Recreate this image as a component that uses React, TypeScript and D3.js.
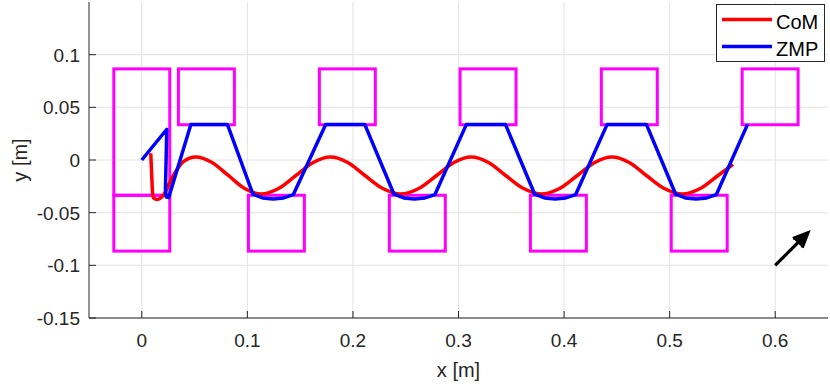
import * as d3 from 'd3';

const W = 830;
const H = 384;
const margin = { top: 2, right: 2, bottom: 66, left: 89 };

const xTicks = [0, 0.1, 0.2, 0.3, 0.4, 0.5, 0.6];
const yTicks = [-0.15, -0.1, -0.05, 0, 0.05, 0.1];

// footprint centres (x) for the two rows, square feet
const leftFootX = [0.0612, 0.1947, 0.328, 0.4618, 0.5952];
const rightFootX = [0, 0.1275, 0.261, 0.3946, 0.528];
const footRowY = 0.06;
const footHalf = 0.0265;
// initial stance rectangle (left foot at start)
const startRect = { x0: -0.0265, x1: 0.0265, y0: -0.0335, y1: 0.0865 };

// CoM trajectory [x, y]
const com: [number, number][] = [
  [0.0085, 0.0064], [0.0093, -0.012], [0.0101, -0.029], [0.0113, -0.0362], [0.0145, -0.0374],
  [0.0206, -0.0333], [0.0268, -0.0206], [0.0331, -0.0095], [0.0394, -0.0016], [0.051, 0.0028],
  [0.0665, -0.0023], [0.082, -0.0147], [0.0975, -0.0271], [0.113, -0.0323], [0.1295, -0.0271],
  [0.146, -0.0147], [0.1624, -0.0023], [0.1787, 0.0028], [0.1951, -0.0023], [0.2114, -0.0147],
  [0.2284, -0.0271], [0.2453, -0.0323], [0.2623, -0.0271], [0.2793, -0.0147], [0.2957, -0.0023],
  [0.312, 0.0028], [0.3284, -0.0023], [0.3447, -0.0147], [0.3617, -0.0271], [0.3787, -0.0323],
  [0.3957, -0.0271], [0.4126, -0.0147], [0.429, -0.0023], [0.4453, 0.0028], [0.4617, -0.0023],
  [0.478, -0.0147], [0.495, -0.0271], [0.512, -0.0323], [0.529, -0.0271], [0.5459, -0.0147],
  [0.56, -0.0041],
];

// ZMP trajectory [x, y]
const zmp: [number, number][] = [
  [0, 0], [0.0237, 0.0292], [0.0224, -0.028], [0.0232, -0.0352], [0.0255, -0.0355],
  [0.0465, 0.0338], [0.0811, 0.0338],
  [0.1053, -0.0325], [0.1145, -0.036], [0.1245, -0.037], [0.1345, -0.036], [0.1436, -0.0328],
  [0.1742, 0.0338], [0.2112, 0.0338],
  [0.2389, -0.0325], [0.2481, -0.036], [0.2583, -0.037], [0.2683, -0.036], [0.2777, -0.0328],
  [0.3075, 0.0338], [0.3445, 0.0338],
  [0.3722, -0.0325], [0.3814, -0.036], [0.3916, -0.037], [0.4016, -0.036], [0.411, -0.0328],
  [0.4408, 0.0338], [0.478, 0.0338],
  [0.5057, -0.0325], [0.5149, -0.036], [0.525, -0.037], [0.535, -0.036], [0.5443, -0.0328],
  [0.5738, 0.0338],
];

// heading arrow
const arrow = { x: 0.6, y: -0.1, u: 0.031, v: 0.031 };

const FONT = '"Liberation Sans", Arial, Helvetica, sans-serif';
const AX = '#262626';

export default function App() {
  const x = d3.scaleLinear().domain([-0.05, 0.65]).range([margin.left, W - margin.right]);
  const y = d3.scaleLinear().domain([-0.15, 0.15]).range([H - margin.bottom, margin.top]);
  const x0 = x(-0.05), x1 = x(0.65), yb = y(-0.15), yt = y(0.15);

  const line = d3.line<[number, number]>().x(d => x(d[0])).y(d => y(d[1]));
  const comPath = d3.line<[number, number]>().x(d => x(d[0])).y(d => y(d[1])).curve(d3.curveMonotoneX)(com);

  const feet = [
    ...leftFootX.map(c => ({ x0: c - footHalf, x1: c + footHalf, y0: footRowY - footHalf, y1: footRowY + footHalf })),
    ...rightFootX.map(c => ({ x0: c - footHalf, x1: c + footHalf, y0: -footRowY - footHalf, y1: -footRowY + footHalf })),
    startRect,
  ];

  // arrow geometry
  const ax0 = x(arrow.x), ay0 = y(arrow.y);
  const ax1 = x(arrow.x + arrow.u), ay1 = y(arrow.y + arrow.v);
  const ang = Math.atan2(ay1 - ay0, ax1 - ax0);
  const hl = 16, ha = 0.42;
  const b1 = [ax1 - hl * Math.cos(ang - ha), ay1 - hl * Math.sin(ang - ha)];
  const b2 = [ax1 - hl * Math.cos(ang + ha), ay1 - hl * Math.sin(ang + ha)];

  return (
    <svg width={W} height={H} style={{ position: 'absolute', left: 0, top: 0, background: '#fff' }} fontFamily={FONT}>
      {/* grid */}
      <g stroke="#e2e2e2" strokeWidth={1}>
        {xTicks.map(t => <line key={'gx' + t} x1={x(t)} x2={x(t)} y1={yt} y2={yb} />)}
        {yTicks.map(t => <line key={'gy' + t} x1={x0} x2={x1} y1={y(t)} y2={y(t)} />)}
      </g>

      {/* axes */}
      <g stroke={AX} strokeWidth={1}>
        <line x1={x0} x2={x0} y1={yt} y2={yb} />
        <line x1={x0} x2={x1} y1={yb} y2={yb} />
        {xTicks.map(t => <line key={'tx' + t} x1={x(t)} x2={x(t)} y1={yb} y2={yb - 7} />)}
        {yTicks.map(t => <line key={'ty' + t} x1={x0} x2={x0 + 7} y1={y(t)} y2={y(t)} />)}
      </g>
      <g fill={AX} fontSize={19}>
        {xTicks.map(t => (
          <text key={'lx' + t} x={x(t)} y={yb + 29} textAnchor="middle">{String(t)}</text>
        ))}
        {yTicks.map(t => (
          <text key={'ly' + t} x={x0 - 9} y={y(t) + 7} textAnchor="end">{String(t)}</text>
        ))}
        <text x={(x0 + x1) / 2} y={377} textAnchor="middle" fontSize={20}>x [m]</text>
        <text transform={`translate(27,${(yt + yb) / 2}) rotate(-90)`} textAnchor="middle" fontSize={20}>y [m]</text>
      </g>

      {/* footprints */}
      <g fill="none" stroke="#ff00ff" strokeWidth={3}>
        {feet.map((f, i) => (
          <rect key={i} x={x(f.x0)} y={y(f.y1)} width={x(f.x1) - x(f.x0)} height={y(f.y0) - y(f.y1)} />
        ))}
      </g>

      {/* trajectories */}
      <path d={comPath || ''} fill="none" stroke="#ff0000" strokeWidth={3.5} strokeLinejoin="round" />
      <path d={line(zmp) || ''} fill="none" stroke="#0000ff" strokeWidth={3.5} strokeLinejoin="round" />

      {/* arrow */}
      <g stroke="#000" strokeWidth={3.2} strokeLinecap="butt">
        <line x1={ax0} y1={ay0} x2={ax1} y2={ay1} />
        <polyline points={`${b1[0]},${b1[1]} ${ax1},${ay1} ${b2[0]},${b2[1]}`} fill="#000" strokeLinejoin="miter" />
      </g>

      {/* legend */}
      <g>
        <rect x={716.5} y={4.5} width={108} height={57} fill="#fff" stroke={AX} strokeWidth={1} />
        <line x1={722} x2={772} y1={19.5} y2={19.5} stroke="#ff0000" strokeWidth={3.5} />
        <line x1={722} x2={772} y1={46.5} y2={46.5} stroke="#0000ff" strokeWidth={3.5} />
        <text x={776} y={28.5} fontSize={20} fill="#000">CoM</text>
        <text x={776} y={55.5} fontSize={20} fill="#000">ZMP</text>
      </g>
    </svg>
  );
}
